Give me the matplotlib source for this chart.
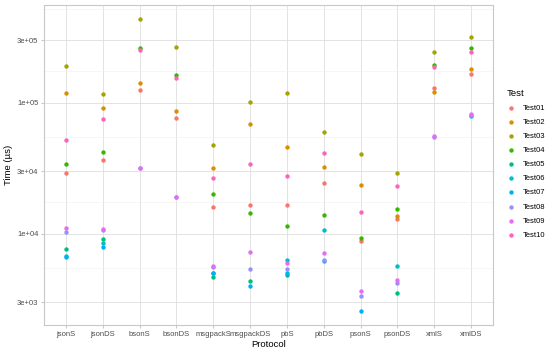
import numpy as np
import matplotlib
matplotlib.use("Agg")
import matplotlib.pyplot as plt
from matplotlib.ticker import FixedLocator, NullFormatter

plt.rcParams["font.family"] = ["Liberation Sans", "DejaVu Sans"]

nan = np.nan

protocols = ["jsonS", "jsonDS", "bsonS", "bsonDS", "msgpackS", "msgpackDS",
             "pbS", "pbDS", "psonS", "psonDS", "xmlS", "xmlDS"]
tests = ["Test01", "Test02", "Test03", "Test04", "Test05",
         "Test06", "Test07", "Test08", "Test09", "Test10"]
colors = ["#F8766D", "#D89000", "#A3A500", "#39B600", "#00BF7D",
          "#00BFC4", "#00B0F6", "#9590FF", "#E76BF3", "#FF62BC"]

# time in microseconds, one list per test, ordered as protocols
test01 = [28800, 36400, 124500, 76600, 15850, 16600, 16400, 24200, 8810, 12900, 128300, 165000]
test02 = [117500, 90800, 141600, 86500, 31500, 68900, 45700, 32400, 23300, 13600, 119700, 179000]
test03 = [190000, 115500, 432000, 267000, 47100, 100900, 118200, 59500, 40400, 28970, 243000, 318000]
test04 = [33900, 41700, 262000, 161000, 20000, 14300, 11350, 13850, 9290, 15300, 194500, 259000]
test05 = [7570, 9080, nan, nan, 4680, 4340, 4820, nan, nan, 3530, nan, nan]
test06 = [6770, 8410, nan, nan, 5020, nan, 6310, 10570, nan, 5650, nan, nan]
test07 = [6580, 7930, nan, nan, 5000, 4000, 4970, 6170, 2570, nan, nan, 79300]
test08 = [10300, 10700, 31800, 19100, 5550, 5390, 5360, 6280, 3350, 4170, 54200, 80500]
test09 = [11060, 10890, 31800, 19100, 5680, 7260, 5930, 7060, 3640, 4420, 55800, 81700]
test10 = [51700, 74400, 252000, 154000, 26400, 33800, 27500, 41400, 14600, 23000, 186000, 244000]
values = [test01, test02, test03, test04, test05, test06, test07, test08, test09, test10]

W, H = 550, 351
fig = plt.figure(figsize=(W / 100, H / 100), dpi=100)
ax = fig.add_axes([44 / W, 1 - 325 / H, (493 - 44) / W, (325 - 5) / H])

x = np.arange(1, len(protocols) + 1)
for name, col, vals in zip(tests, colors, values):
    ax.scatter(x, vals, s=10, color=col, label=name, linewidths=0, zorder=3)

ax.set_yscale("log")
ax.set_ylim(2004, 555000)
ax.set_xlim(0.4, 12.6)

major = [3e3, 1e4, 3e4, 1e5, 3e5]
ax.yaxis.set_major_locator(FixedLocator(major))
ax.set_yticklabels(["3e+03", "1e+04", "3e+04", "1e+05", "3e+05"])
lm = np.log10(major)
minor = list(10 ** ((lm[:-1] + lm[1:]) / 2)) + [10 ** (lm[-1] + (lm[-1] - lm[-2]) / 2),
                                                 10 ** (lm[0] - (lm[1] - lm[0]) / 2)]
ax.yaxis.set_minor_locator(FixedLocator(minor))
ax.yaxis.set_minor_formatter(NullFormatter())
ax.set_xticks(x)
ax.set_xticklabels(protocols)

ax.grid(True, which="major", color="#DEDEDE", linewidth=0.6, zorder=0)
ax.grid(True, which="minor", axis="y", color="#EFEFEF", linewidth=0.4, zorder=0)
ax.set_axisbelow(True)
for s in ax.spines.values():
    s.set_color("#C8C8C8")
    s.set_linewidth(0.8)
ax.tick_params(axis="both", which="both", length=2, color="#C8C8C8",
               labelsize=5.5, labelcolor="#4D4D4D", pad=2)
ax.tick_params(axis="y", which="minor", length=0)

ax.set_xlabel("Protocol", fontsize=6.8, labelpad=2)
ax.set_ylabel("Time (µs)", fontsize=6.8, labelpad=3)

leg = fig.legend(loc="upper left", bbox_to_anchor=(507 / W, 1 - 89 / H), title="Test",
                 frameon=False, fontsize=5.5, title_fontsize=6.8,
                 handletextpad=1.1, labelspacing=0.88, markerscale=1.0,
                 handlelength=1.0, borderaxespad=0, borderpad=0)
leg._legend_box.align = "left"

fig.savefig("out.png", dpi=100)
